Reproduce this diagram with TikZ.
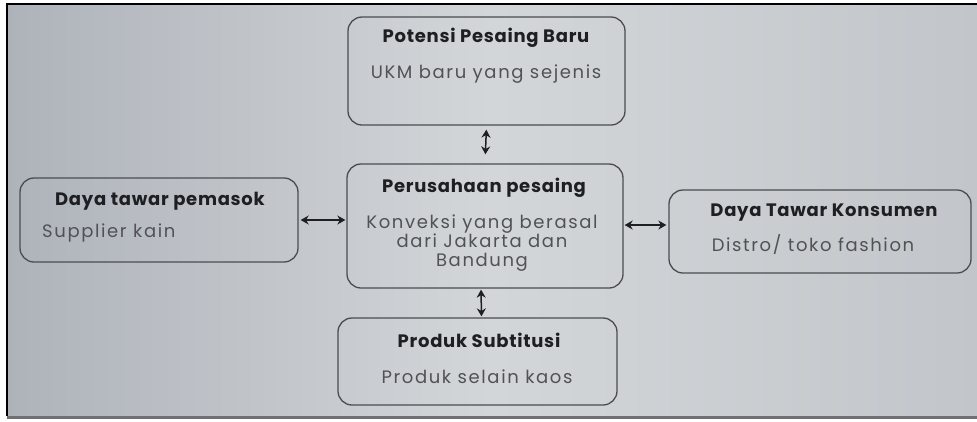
\documentclass[tikz,border=0pt]{standalone}
\usepackage{fontspec}
\setmainfont{Poppins}
\newfontfamily\ttlfont{Poppins}[LetterSpace=4]
\newfontfamily\bodyfont{Poppins}[LetterSpace=9]
\newcommand\bodysetup{\bodyfont\fontsize{18}{19}\selectfont\lineskiplimit=-50pt\relax}
\usetikzlibrary{arrows.meta,calc}
\definecolor{bgL}{HTML}{AEB3BA}
\definecolor{bgM}{HTML}{D3D6D9}
\definecolor{bgR}{HTML}{C2C6CA}
\definecolor{edge}{HTML}{4A4C50}
\definecolor{body}{HTML}{505256}
\definecolor{head}{HTML}{1E1F22}
\tikzset{
  box/.style={draw=edge, line width=1.3pt, rounded corners=14pt, inner sep=0pt},
  ttl/.style={text=head, font=\ttlfont\fontsize{18}{21}\selectfont\bfseries, inner sep=0pt},
  txt/.style={text=body, font=\bodysetup, inner sep=0pt, align=center},
  arr/.style={{Stealth[length=8pt,width=9pt]}-{Stealth[length=8pt,width=9pt]}, line width=1.5pt, draw=head},
}
\begin{document}
\begin{tikzpicture}[x=1pt,y=-1pt]
\useasboundingbox (0,0) rectangle (977,421);
\fill[white] (0,0) rectangle (977,421);
\shade[left color=bgL, right color=bgR, middle color=bgM] (7,4) rectangle (977,416);
\draw[line width=1.5pt, black] (7,416) -- (7,4) -- (977,4);
\draw[line width=3pt, color=edge!80] (7,417) -- (977,417);

\node[box, minimum width=277pt, minimum height=108pt] (top) at (486.5,71) {};
\node[box, minimum width=278pt, minimum height=84pt] (left) at (159,220) {};
\node[box, minimum width=276pt, minimum height=124pt] (center) at (485,226) {};
\node[box, minimum width=302pt, minimum height=83pt] (right) at (820,231.5) {};
\node[box, minimum width=279pt, minimum height=87pt] (bottom) at (477.5,361.5) {};

\node[ttl] (t1) at (486,38) {Potensi Pesaing Baru};
\node[txt] (b1) at (486,74) {UKM baru yang sejenis};
\node[ttl] (t2) at (160,201) {Daya tawar pemasok};
\node[txt, anchor=west] (b2) at (42,233) {Supplier kain};
\node[ttl] (t3) at (484,188) {Perusahaan pesaing};
\node[txt] (b3) at (482,243) {Konveksi yang berasal\\dari Jakarta dan\\Bandung};
\node[ttl] (t4) at (824,213) {Daya Tawar Konsumen};
\node[txt] (b4) at (813,245) {Distro/ toko fashion};
\node[ttl] (t5) at (479,340) {Produk Subtitusi};
\node[txt] (b5) at (477,377) {Produk selain kaos};

\draw[arr, shorten <=4pt, shorten >=9pt] (top.south) -- (center.north);
\draw[arr, shorten <=1pt, shorten >=1pt] ($(center.south)+(-4,0)$) -- ($(bottom.north)+(4,0)$);
\draw[arr, shorten <=2pt, shorten >=1pt] (left.east) -- (left.east -| center.west);
\draw[arr, shorten <=1pt, shorten >=2pt] (center.east |- 0,225) -- (right.west |- 0,225);
\end{tikzpicture}
\end{document}
